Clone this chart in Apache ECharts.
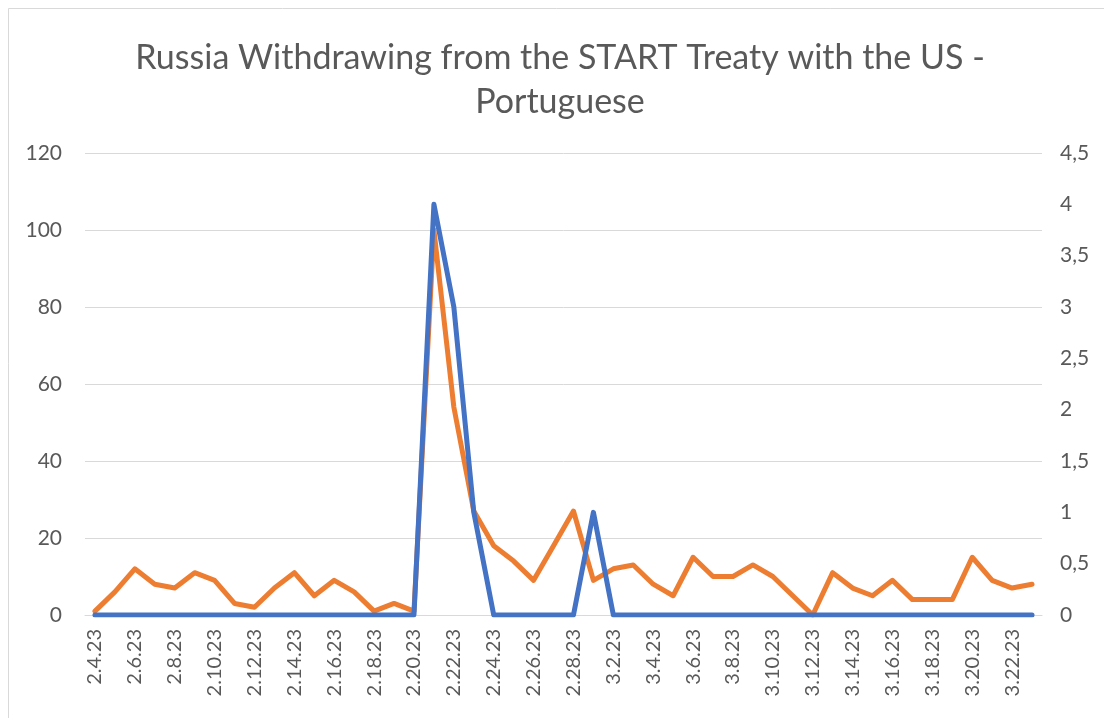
<!DOCTYPE html>
<html><head><meta charset="utf-8">
<script src="https://cdn.jsdelivr.net/npm/echarts@6/dist/echarts.min.js"></script>
<style>html,body{margin:0;padding:0;background:#fff}#c{width:1104px;height:718px}</style>
</head><body><div id="c"></div>
<script>
const titleText = 'Russia Withdrawing from the START Treaty with the US -\nPortuguese';
const categories = ['2.4.23','2.5.23','2.6.23','2.7.23','2.8.23','2.9.23','2.10.23','2.11.23','2.12.23','2.13.23','2.14.23','2.15.23','2.16.23','2.17.23','2.18.23','2.19.23','2.20.23','2.21.23','2.22.23','2.23.23','2.24.23','2.25.23','2.26.23','2.27.23','2.28.23','3.1.23','3.2.23','3.3.23','3.4.23','3.5.23','3.6.23','3.7.23','3.8.23','3.9.23','3.10.23','3.11.23','3.12.23','3.13.23','3.14.23','3.15.23','3.16.23','3.17.23','3.18.23','3.19.23','3.20.23','3.21.23','3.22.23','3.23.23'];
const orangeValues = [1,6,12,8,7,11,9,3,2,7,11,5,9,6,1,3,1,100,54,27,18,14,9,18,27,9,12,13,8,5,15,10,10,13,10,5,0,11,7,5,9,4,4,4,15,9,7,8];
const blueValues = [0,0,0,0,0,0,0,0,0,0,0,0,0,0,0,0,0,4,3,1,0,0,0,0,0,1,0,0,0,0,0,0,0,0,0,0,0,0,0,0,0,0,0,0,0,0,0,0];
const leftTicks = {min:0, max:120, interval:20};
const rightTicks = {min:0, max:4.5, interval:0.5};

const font = 'Lato, "Open Sans", sans-serif';
const chart = echarts.init(document.getElementById('c'));
chart.setOption({
  backgroundColor:'#fff',
  animation:false,
  title:{text:titleText, left:555, textAlign:'center', top:31, textStyle:{fontFamily:font, fontSize:34, fontWeight:'normal', color:'#595959', lineHeight:44}},
  graphic:[
    {type:'line', shape:{x1:8.5,y1:8.5,x2:1104,y2:8.5}, style:{stroke:'#d9d9d9', lineWidth:1}},
    {type:'line', shape:{x1:8.5,y1:8.5,x2:8.5,y2:718}, style:{stroke:'#d9d9d9', lineWidth:1}}
  ],
  grid:{left:85, right:62, top:153, bottom:103, containLabel:false},
  xAxis:{type:'category', data:categories, boundaryGap:true,
    axisLine:{lineStyle:{color:'#d9d9d9', width:1}}, axisTick:{show:false},
    axisLabel:{interval:1, rotate:90, color:'#595959', fontFamily:font, fontSize:20, margin:14}},
  yAxis:[
    {type:'value', min:leftTicks.min, max:leftTicks.max, interval:leftTicks.interval,
      axisLine:{show:false}, axisTick:{show:false},
      splitLine:{lineStyle:{color:'#d9d9d9', width:1}},
      axisLabel:{color:'#595959', fontFamily:font, fontSize:21, margin:23}},
    {type:'value', min:rightTicks.min, max:rightTicks.max, interval:rightTicks.interval, position:'right',
      axisLine:{show:false}, axisTick:{show:false}, splitLine:{show:false},
      axisLabel:{color:'#595959', fontFamily:font, fontSize:21, margin:18,
        formatter:v=>String(v).replace('.',',')}}
  ],
  series:[
    {type:'line', data:orangeValues, yAxisIndex:0, showSymbol:false, lineStyle:{color:'#ED7D31', width:5, cap:'round', join:'round'}, itemStyle:{color:'#ED7D31'}},
    {type:'line', data:blueValues, yAxisIndex:1, showSymbol:false, lineStyle:{color:'#4472C4', width:5, cap:'round', join:'round'}, itemStyle:{color:'#4472C4'}}
  ]
});
</script></body></html>
